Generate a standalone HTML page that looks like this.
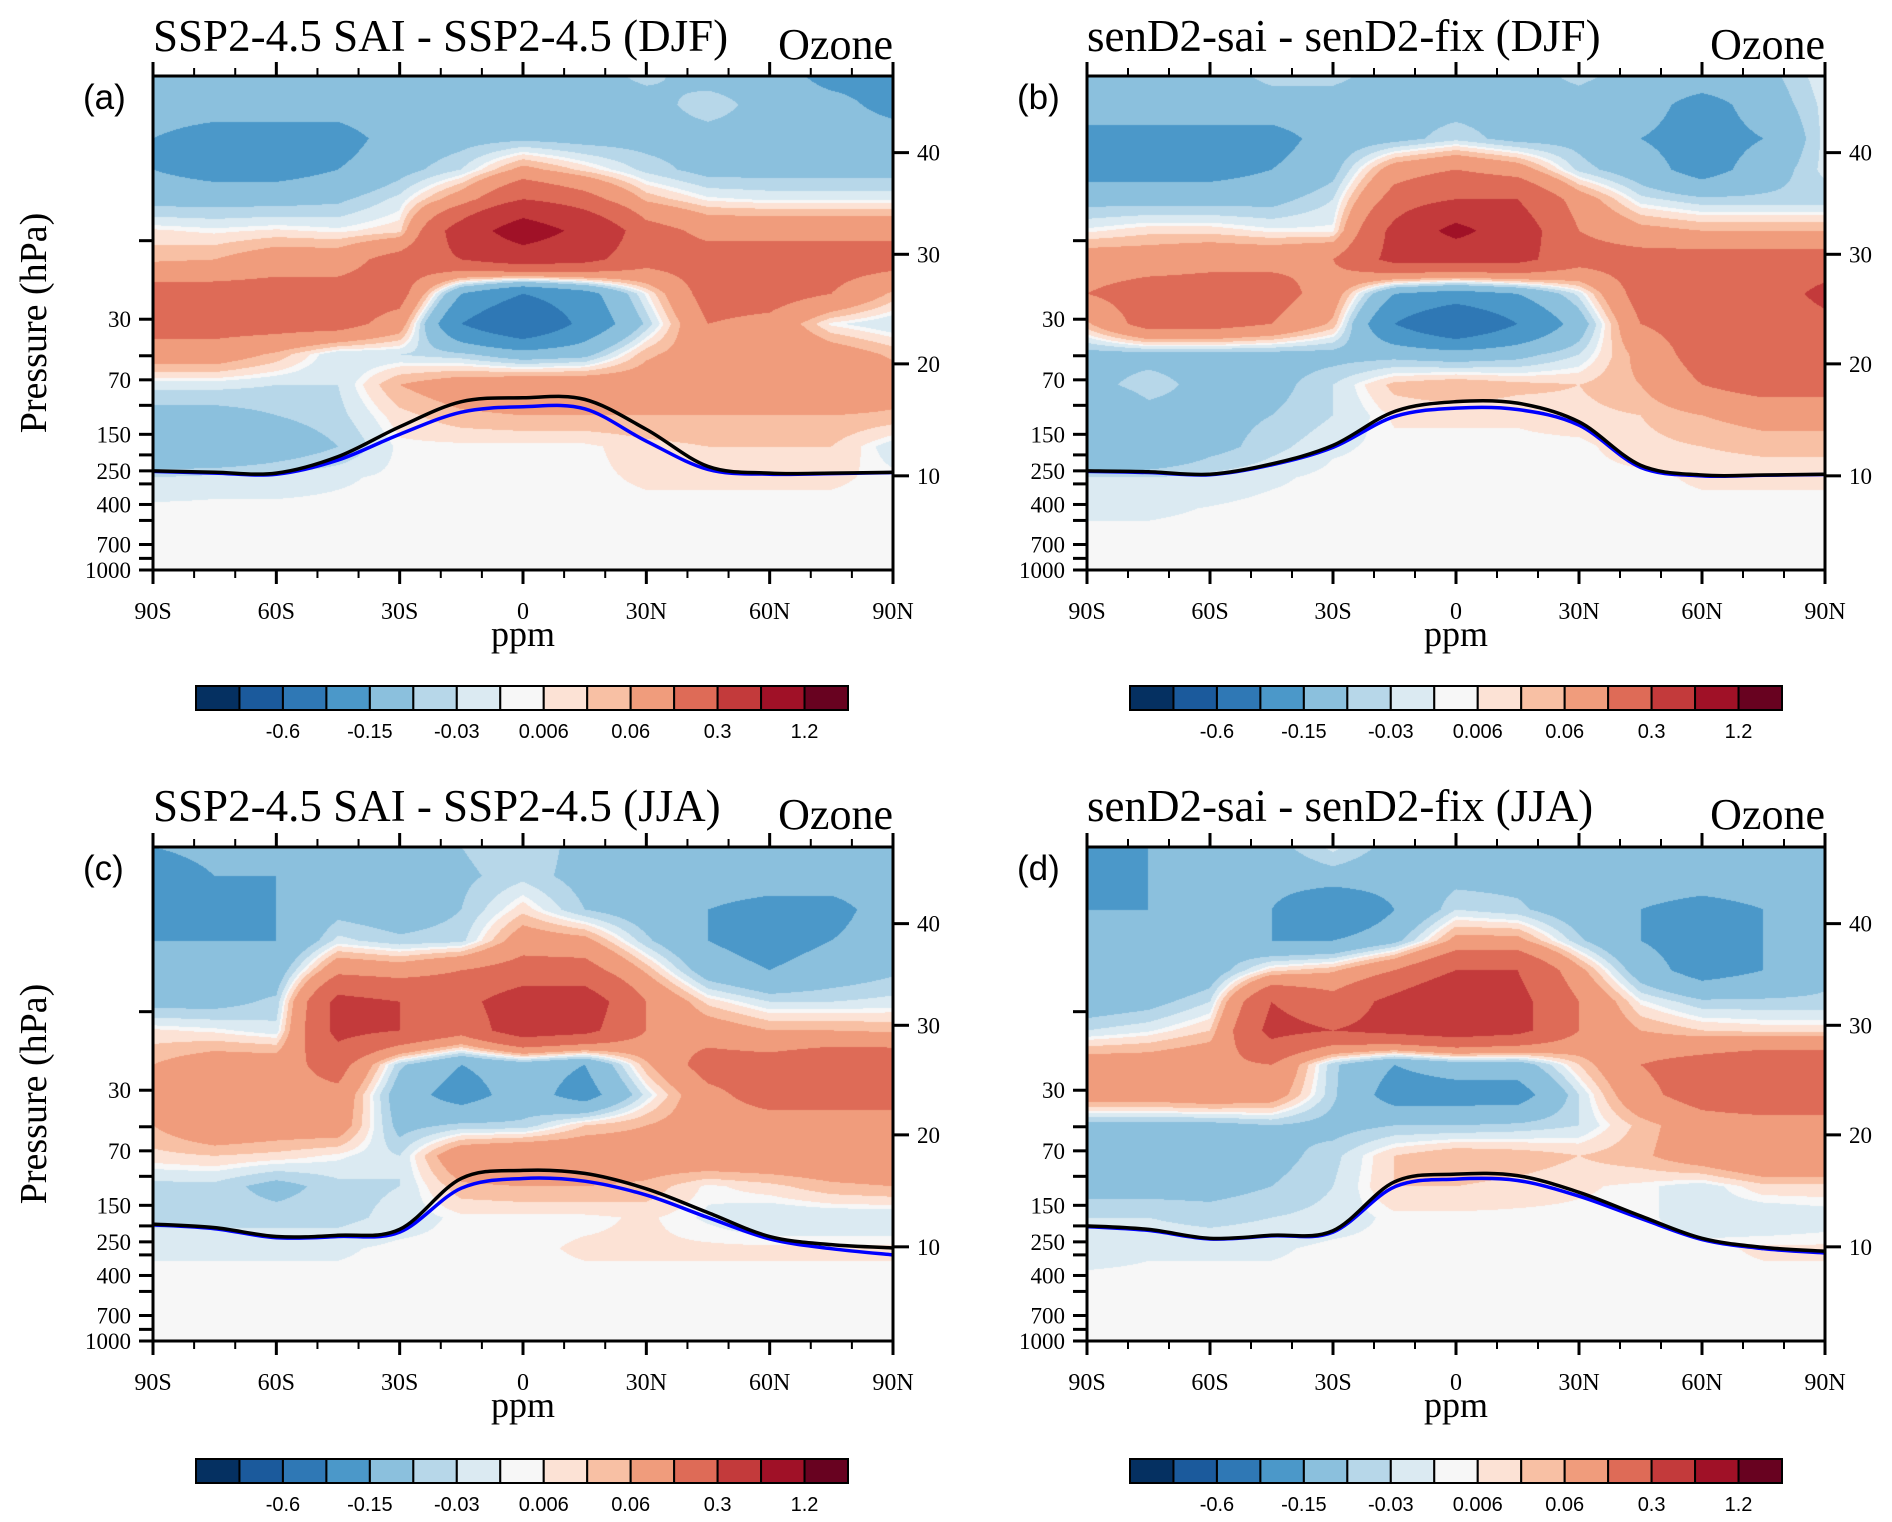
<!DOCTYPE html>
<html><head><meta charset="utf-8">
<style>
html,body{margin:0;padding:0;background:#fff;}
body{width:1892px;height:1522px;position:relative;overflow:hidden;}
canvas{position:absolute;}
svg{position:absolute;left:0;top:0;}
</style></head>
<body>
<canvas id="cv-a"></canvas>
<canvas id="cv-b"></canvas>
<canvas id="cv-c"></canvas>
<canvas id="cv-d"></canvas>
<svg id="svg" width="1892" height="1522"></svg>
<script>
const LATS=[-90,-75,-60,-45,-30,-15,0,15,30,45,60,75,90];
const LEVELS=[1,1.5,2.4,3.7,5.6,8.7,13,21,32,49,75,115,178,274,422,650,1000];
const BOUNDS=[-1.2,-0.6,-0.3,-0.15,-0.06,-0.03,-0.006,0.006,0.03,0.06,0.15,0.3,0.6,1.2];
const COLORS=['#053061','#1b5a9c','#2f78b5','#4b98c9','#8bc0dd','#b7d7e9','#dbeaf2','#f7f7f7','#fce2d5','#f8c0a4','#f09c7c','#de6b57','#c33a3b','#a01127','#680220'];
const CBAR_LABELS=['-0.6','-0.15','-0.03','0.006','0.06','0.3','1.2'];
const CBAR_LABEL_IDX=[1,3,5,7,9,11,13];
const X_TICKS=[-90,-60,-30,0,30,60,90];
const X_TICK_LABELS=['90S','60S','30S','0','30N','60N','90N'];
const P_TICKS=[10,30,50,70,100,150,200,250,300,400,500,700,850,1000];
const P_LABELED=[30,70,150,250,400,700,1000];
const ALT_TICKS=[10,20,30,40];
const ALT_P=[268,56,12.1,2.92];
const Z=[0,0,0,0,0,0,0,0,0,0,0,0,0];

const FIELD_A=[
[-0.08,-0.08,-0.08,-0.08,-0.08,-0.08,-0.08,-0.08,-0.05,-0.08,-0.08,-0.2,-0.2],
[-0.1,-0.1,-0.1,-0.1,-0.08,-0.08,-0.08,-0.08,-0.08,-0.04,-0.08,-0.1,-0.2],
[-0.15,-0.2,-0.2,-0.2,-0.1,-0.08,-0.07,-0.08,-0.08,-0.08,-0.08,-0.08,-0.08],
[-0.15,-0.2,-0.2,-0.15,-0.08,-0.03,0.08,0.02,-0.04,-0.08,-0.08,-0.08,-0.08],
[-0.08,-0.08,-0.08,-0.07,-0.02,0.1,0.3,0.2,0.05,0.0,-0.01,-0.01,-0.01],
[0.01,0.0,0.01,0.0,0.02,0.4,0.8,0.5,0.2,0.12,0.12,0.12,0.12],
[0.05,0.06,0.1,0.1,0.2,0.3,0.4,0.35,0.2,0.2,0.2,0.2,0.2],
[0.2,0.2,0.2,0.2,0.2,-0.15,-0.3,-0.2,0.0,0.2,0.2,0.15,0.05],
[0.2,0.2,0.2,0.2,0.1,-0.3,-0.5,-0.25,-0.05,0.15,0.12,0.0,-0.03],
[0.1,0.1,0.05,-0.03,-0.03,-0.05,-0.1,-0.08,0.05,0.1,0.15,0.1,0.05],
[-0.02,-0.02,-0.03,-0.03,0.06,0.1,0.12,0.12,0.1,0.1,0.15,0.15,0.1],
[-0.08,-0.08,-0.06,-0.04,0.02,0.05,0.06,0.06,0.06,0.06,0.06,0.06,0.05],
[-0.15,-0.15,-0.1,-0.06,0.0,0.0,0.0,0.0,0.02,0.03,0.03,0.03,-0.02],
[-0.03,-0.02,-0.02,-0.01,0.0,0.0,0.0,0.0,0.01,0.01,0.01,0.01,0.0],
Z,Z,Z];
const FIELD_B=[
[-0.08,-0.08,-0.08,-0.05,-0.05,-0.08,-0.08,-0.08,-0.05,-0.08,-0.08,-0.08,-0.01],
[-0.08,-0.08,-0.08,-0.08,-0.08,-0.08,-0.08,-0.08,-0.08,-0.1,-0.2,-0.1,-0.02],
[-0.2,-0.2,-0.2,-0.2,-0.1,-0.08,-0.04,-0.08,-0.08,-0.15,-0.2,-0.15,-0.02],
[-0.2,-0.2,-0.2,-0.15,-0.08,0.1,0.15,0.1,-0.04,-0.1,-0.2,-0.1,-0.02],
[-0.08,-0.08,-0.08,-0.08,-0.03,0.2,0.3,0.3,0.1,-0.02,-0.05,-0.05,-0.05],
[0.0,0.02,0.02,0.0,0.0,0.35,0.7,0.4,0.15,0.08,0.06,0.06,0.06],
[0.1,0.1,0.12,0.12,0.15,0.35,0.35,0.35,0.2,0.2,0.2,0.2,0.2],
[0.15,0.2,0.2,0.2,0.1,-0.15,-0.2,-0.15,-0.02,0.2,0.2,0.2,0.35],
[0.05,0.2,0.2,0.15,0.05,-0.3,-0.5,-0.3,-0.1,0.15,0.2,0.2,0.25],
[-0.08,-0.08,-0.08,-0.08,-0.08,-0.08,-0.1,-0.08,-0.03,0.08,0.2,0.2,0.2],
[-0.08,-0.04,-0.08,-0.08,-0.03,0.04,0.06,0.04,0.03,0.06,0.15,0.2,0.2],
[-0.15,-0.08,-0.08,-0.06,-0.03,0.01,0.01,0.01,0.02,0.03,0.06,0.08,0.08],
[-0.15,-0.15,-0.08,-0.04,-0.01,0.0,0.0,0.0,0.0,0.02,0.03,0.04,0.04],
[-0.03,-0.03,-0.02,-0.01,0.0,0.0,0.0,0.0,0.0,0.0,0.01,0.01,0.01],
[-0.01,-0.01,-0.005,0,0,0,0,0,0,0,0,0,0],
Z,Z];
const FIELD_C=[
[-0.15,-0.1,-0.15,-0.1,-0.08,-0.06,-0.03,-0.08,-0.08,-0.08,-0.08,-0.08,-0.08],
[-0.25,-0.15,-0.15,-0.15,-0.1,-0.07,-0.04,-0.08,-0.08,-0.08,-0.08,-0.08,-0.08],
[-0.25,-0.25,-0.15,-0.08,-0.1,-0.06,0.02,-0.06,-0.1,-0.15,-0.2,-0.2,-0.08],
[-0.15,-0.15,-0.15,-0.02,-0.05,-0.04,0.1,0.08,-0.05,-0.15,-0.2,-0.15,-0.08],
[-0.15,-0.1,-0.1,0.12,0.1,0.15,0.2,0.2,0.05,-0.1,-0.15,-0.1,-0.07],
[-0.08,-0.08,-0.05,0.35,0.3,0.25,0.4,0.4,0.15,0.02,-0.03,-0.03,-0.02],
[0.01,0.0,-0.02,0.35,0.3,0.2,0.4,0.35,0.15,0.1,0.06,0.06,0.05],
[0.06,0.1,0.1,0.2,-0.05,-0.15,-0.1,-0.15,0.05,0.2,0.2,0.25,0.25],
[0.08,0.12,0.12,0.12,-0.1,-0.2,-0.1,-0.2,-0.02,0.12,0.2,0.2,0.2],
[0.06,0.12,0.1,0.1,-0.08,-0.05,-0.05,0.03,0.06,0.1,0.1,0.1,0.1],
[0.02,0.03,0.02,0.0,-0.03,0.12,0.15,0.12,0.1,0.12,0.12,0.12,0.12],
[-0.04,-0.04,-0.08,-0.04,-0.03,0.05,0.06,0.06,0.05,0.0,0.02,0.05,0.06],
[-0.04,-0.04,-0.04,-0.04,-0.02,0.0,0.0,0.0,0.01,-0.01,-0.03,-0.03,-0.03],
[-0.01,-0.01,-0.01,-0.01,0,0,0,0.01,0.01,0.01,0.01,0.01,0.01],
Z,Z,Z];
const FIELD_D=[
[-0.15,-0.15,-0.1,-0.08,-0.02,-0.08,-0.08,-0.08,-0.08,-0.08,-0.08,-0.08,-0.06],
[-0.2,-0.15,-0.15,-0.1,-0.08,-0.1,-0.08,-0.08,-0.08,-0.08,-0.08,-0.08,-0.08],
[-0.15,-0.15,-0.1,-0.15,-0.3,-0.15,-0.03,-0.05,-0.1,-0.15,-0.2,-0.15,-0.08],
[-0.15,-0.15,-0.08,-0.15,-0.15,-0.08,0.08,0.08,-0.05,-0.15,-0.2,-0.15,-0.08],
[-0.15,-0.15,-0.1,0.02,0.05,0.15,0.3,0.3,0.08,-0.1,-0.2,-0.15,-0.08],
[-0.1,-0.08,-0.03,0.3,0.2,0.35,0.5,0.35,0.15,0.0,-0.05,-0.05,-0.05],
[-0.03,-0.01,0.03,0.35,0.3,0.35,0.4,0.35,0.15,0.06,0.03,0.02,0.02],
[0.1,0.1,0.12,0.15,-0.05,-0.15,-0.1,-0.1,0.03,0.15,0.2,0.25,0.25],
[0.1,0.1,0.12,0.1,-0.05,-0.2,-0.2,-0.2,-0.03,0.12,0.2,0.25,0.25],
[-0.08,-0.08,-0.08,-0.06,-0.08,-0.06,-0.06,-0.05,-0.03,0.04,0.1,0.1,0.1],
[-0.08,-0.08,-0.1,-0.08,-0.04,0.03,0.06,0.05,0.03,0.05,0.1,0.15,0.15],
[-0.08,-0.08,-0.08,-0.06,-0.03,0.03,0.03,0.02,0.01,0.0,-0.02,0.02,0.02],
[-0.03,-0.03,-0.04,-0.03,-0.02,0.0,0.0,0.0,0.0,0.0,-0.02,-0.03,-0.02],
[-0.02,-0.01,-0.01,-0.01,0,0,0,0,0,0,0,0.01,0.01],
Z,Z,Z];
const TROPO_BLACK_A=[250,255,258,205,135,95,90,92,140,235,258,258,255];
const TROPO_BLUE_A=[252,258,262,215,150,110,102,105,165,245,262,260,256];
const TROPO_BLACK_B=[250,253,262,227,175,109,95,97,126,231,265,265,262];
const TROPO_BLUE_B=[252,256,264,230,180,117,104,106,132,238,268,266,263];
const TROPO_BLACK_C=[195,205,232,228,210,103,92,96,119,166,232,260,272];
const TROPO_BLUE_C=[197,208,236,232,218,118,103,107,130,178,240,275,300];
const TROPO_BLACK_D=[200,210,238,228,214,108,97,99,125,174,238,270,285];
const TROPO_BLUE_D=[202,213,240,230,218,116,104,106,132,180,242,275,292];

const PANELS=[
 {id:'a',x0:153,x1:893,y0:76,y1:570,title:'SSP2-4.5 SAI - SSP2-4.5 (DJF)',field:FIELD_A,black:TROPO_BLACK_A,blue:TROPO_BLUE_A,ylab:true,ty:51,cy0:686},
 {id:'b',x0:1087,x1:1825,y0:76,y1:570,title:'senD2-sai - senD2-fix (DJF)',field:FIELD_B,black:TROPO_BLACK_B,blue:TROPO_BLUE_B,ylab:false,ty:51,cy0:686},
 {id:'c',x0:153,x1:893,y0:847,y1:1341,title:'SSP2-4.5 SAI - SSP2-4.5 (JJA)',field:FIELD_C,black:TROPO_BLACK_C,blue:TROPO_BLUE_C,ylab:true,ty:821,cy0:1459},
 {id:'d',x0:1087,x1:1825,y0:847,y1:1341,title:'senD2-sai - senD2-fix (JJA)',field:FIELD_D,black:TROPO_BLACK_D,blue:TROPO_BLUE_D,ylab:false,ty:821,cy0:1459}
];
const NS='http://www.w3.org/2000/svg';
const svg=document.getElementById('svg');
function mk(tag,attrs,parent){const e=document.createElementNS(NS,tag);for(const k in attrs)e.setAttribute(k,attrs[k]);(parent||svg).appendChild(e);return e;}
function hex(c){return [parseInt(c.substr(1,2),16),parseInt(c.substr(3,2),16),parseInt(c.substr(5,2),16)];}
const RGB=COLORS.map(hex);
const LOGL=LEVELS.map(p=>Math.log10(p));

PANELS.forEach(P=>{
 const W=P.x1-P.x0,H=P.y1-P.y0;
 const xs=lat=>P.x0+(lat+90)/180*W;
 const ys=p=>P.y0+Math.log10(p)/3*H;
 const cv=document.getElementById('cv-'+P.id);
 cv.width=W;cv.height=H;cv.style.left=P.x0+'px';cv.style.top=P.y0+'px';
 const ctx=cv.getContext('2d');const img=ctx.createImageData(W,H);
 for(let py=0;py<H;py++){
  const lp=3*(py+0.5)/H;let r=0;while(r<LOGL.length-2&&lp>LOGL[r+1])r++;
  let fy=(lp-LOGL[r])/(LOGL[r+1]-LOGL[r]);fy=Math.max(0,Math.min(1,fy));
  for(let px=0;px<W;px++){
   const lat=-90+180*(px+0.5)/W;let c=Math.min(11,Math.floor((lat+90)/15));
   const fx=(lat-LATS[c])/15;
   const F=P.field;
   const v=(F[r][c]*(1-fx)+F[r][c+1]*fx)*(1-fy)+(F[r+1][c]*(1-fx)+F[r+1][c+1]*fx)*fy+1e-7;
   let i=0;while(i<BOUNDS.length&&v>=BOUNDS[i])i++;
   const k=(py*W+px)*4;img.data[k]=RGB[i][0];img.data[k+1]=RGB[i][1];img.data[k+2]=RGB[i][2];img.data[k+3]=255;
  }
 }
 ctx.putImageData(img,0,0);
 const g=mk('g',{});
 
 
 function curve(arr){const pts=LATS.map((l,i)=>[xs(l),ys(arr[i])]);let d='M'+pts[0][0]+','+pts[0][1];
  for(let i=0;i<pts.length-1;i++){const p0=pts[Math.max(0,i-1)],p1=pts[i],p2=pts[i+1],p3=pts[Math.min(pts.length-1,i+2)];
   d+=' C'+(p1[0]+(p2[0]-p0[0])/6)+','+(p1[1]+(p2[1]-p0[1])/6)+' '+(p2[0]-(p3[0]-p1[0])/6)+','+(p2[1]-(p3[1]-p1[1])/6)+' '+p2[0]+','+p2[1];}
  return d;}
 const bl=mk('path',{d:curve(P.blue),fill:'none',stroke:'#0000ff','stroke-width':3.5},g);
 
 
 const bk=mk('path',{d:curve(P.black),fill:'none',stroke:'#000','stroke-width':3.5},g);
 
 
 const fr=mk('rect',{x:P.x0,y:P.y0,width:W,height:H,fill:'none',stroke:'#000','stroke-width':3},g);
 
 
 for(let lat=-90;lat<=90;lat+=10){const x=xs(lat);const maj=lat%30===0;const L=maj?14:8;
  mk('line',{x1:x,x2:x,y1:P.y1,y2:P.y1+L,stroke:'#000','stroke-width':maj?3:2},g);
  mk('line',{x1:x,x2:x,y1:P.y0,y2:P.y0-L,stroke:'#000','stroke-width':maj?3:2},g);}
 X_TICKS.forEach((lat,i)=>{const t=mk('text',{x:xs(lat),y:P.y1+49,'text-anchor':'middle','font-family':'Liberation Serif, serif','font-size':24},g);t.textContent=X_TICK_LABELS[i];
  
  });
 const xl=mk('text',{x:(P.x0+P.x1)/2,y:P.y1+76,'text-anchor':'middle','font-family':'Liberation Serif, serif','font-size':36},g);xl.textContent='ppm';
 
 
 P_TICKS.forEach(p=>{const y=ys(p);mk('line',{x1:P.x0-14,x2:P.x0,y1:y,y2:y,stroke:'#000','stroke-width':3},g);});
 P_LABELED.forEach(p=>{const t=mk('text',{x:P.x0-22,y:ys(p)+8,'text-anchor':'end','font-family':'Liberation Serif, serif','font-size':23},g);t.textContent=String(p);
  
  });
 ALT_TICKS.forEach((a,i)=>{const y=ys(ALT_P[i]);mk('line',{x1:P.x1,x2:P.x1+16,y1:y,y2:y,stroke:'#000','stroke-width':3},g);
  const t=mk('text',{x:P.x1+24,y:y+8,'font-family':'Liberation Serif, serif','font-size':23},g);t.textContent=String(a);
  
  });
 if(P.ylab){const t=mk('text',{x:0,y:0,transform:'translate(46,'+((P.y0+P.y1)/2)+') rotate(-90)','text-anchor':'middle','font-family':'Liberation Serif, serif','font-size':38},g);t.textContent='Pressure (hPa)';
  
  }
 const ti=mk('text',{x:P.x0,y:P.ty,'font-family':'Liberation Serif, serif','font-size':45},g);ti.textContent=P.title;
 
 
 const oz=mk('text',{x:P.x1,y:P.ty+8,'text-anchor':'end','font-family':'Liberation Serif, serif','font-size':44},g);oz.textContent='Ozone';
 
 
 const lb=mk('text',{x:P.x0-70,y:P.y0+33,'font-family':'Liberation Sans, sans-serif','font-size':35},g);lb.textContent='('+P.id+')';
 
 
 const cx0=P.x0+43,cx1=P.x0+695,bw=(cx1-cx0)/COLORS.length;
 const cb=mk('g',{},g);
 
 
 COLORS.forEach((c,i)=>{const r=mk('rect',{x:cx0+i*bw,y:P.cy0,width:bw,height:24,fill:c,stroke:'#000','stroke-width':2},cb);
  
  });
 CBAR_LABELS.forEach((s,i)=>{const t=mk('text',{x:cx0+(CBAR_LABEL_IDX[i]+1)*bw,y:P.cy0+52,'text-anchor':'middle','font-family':'Liberation Sans, sans-serif','font-size':20},cb);t.textContent=s;
  
  });
});
</script>
</body></html>
